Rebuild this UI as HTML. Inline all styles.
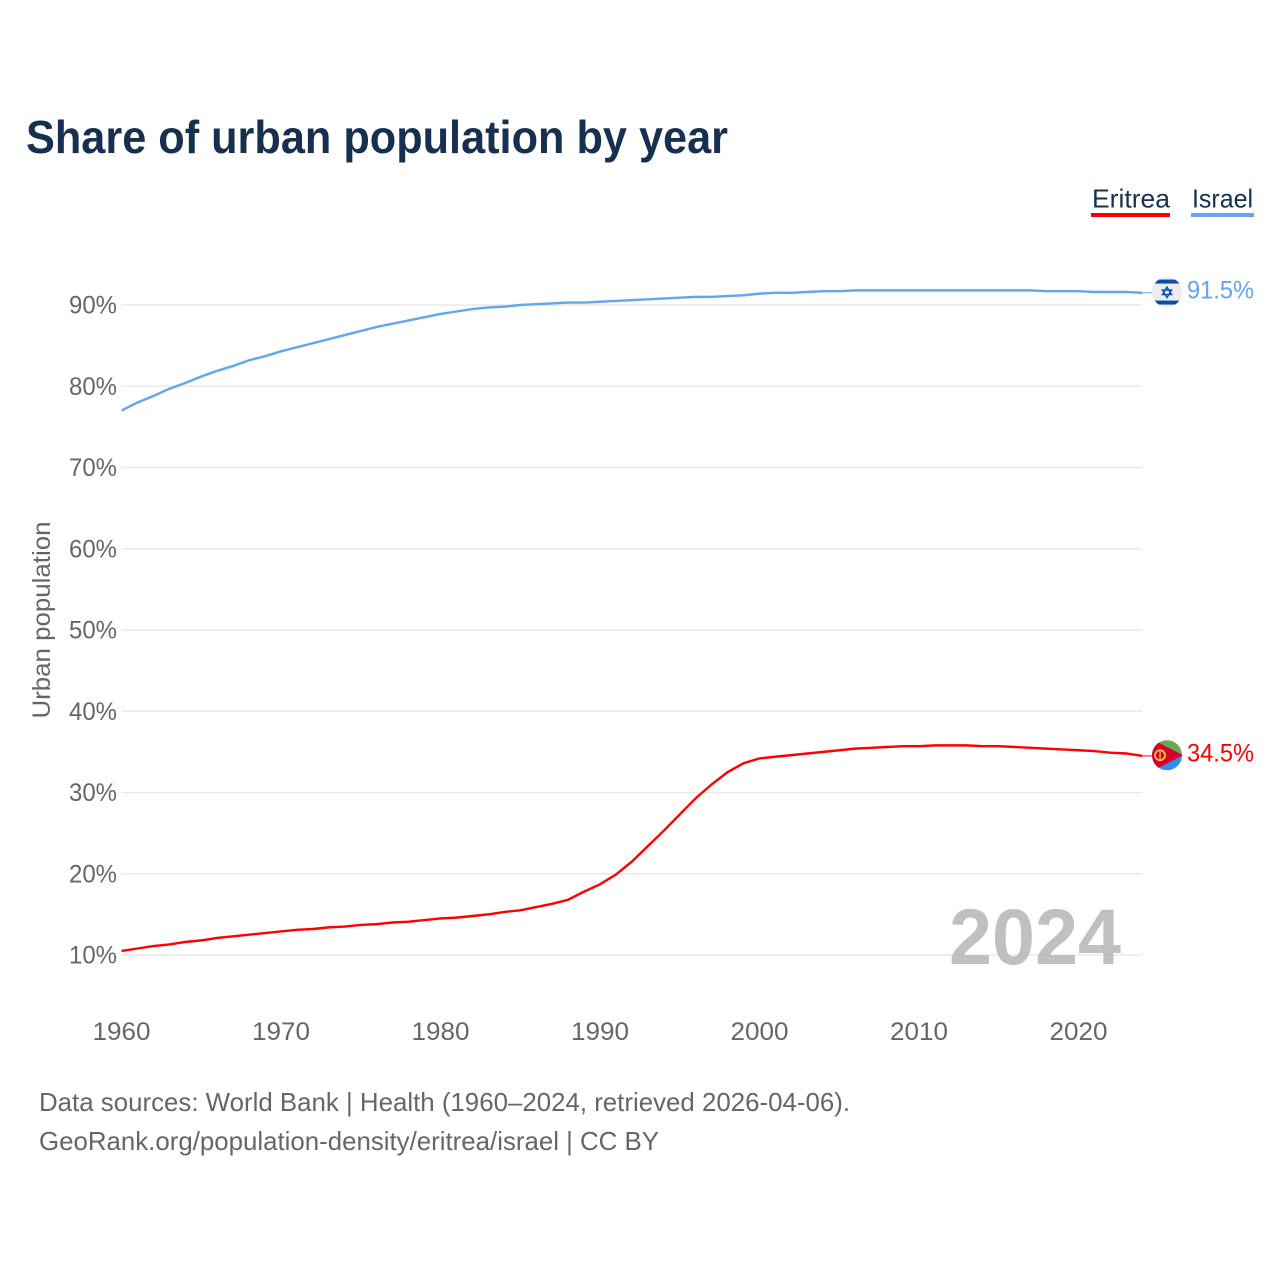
<!DOCTYPE html>
<html lang="en">
<head>
<meta charset="utf-8">
<title>Share of urban population by year</title>
<style>
html,body{margin:0;padding:0;background:#fff;width:1280px;height:1280px;overflow:hidden}
svg{display:block;font-family:"Liberation Sans",sans-serif}
</style>
</head>
<body>
<svg id="chart" xmlns="http://www.w3.org/2000/svg" width="1280" height="1280" viewBox="0 0 1280 1280">
  <rect x="0" y="0" width="1280" height="1280" fill="#fff"/>
  <text x="26" y="153" font-size="46" font-weight="bold" fill="#17304f" textLength="702" lengthAdjust="spacingAndGlyphs">Share of urban population by year</text>
  <g>
    <text x="1092" y="207.5" font-size="26" fill="#17304f" textLength="78" lengthAdjust="spacingAndGlyphs">Eritrea</text>
    <rect x="1091" y="213" width="79" height="4" fill="#ff0000"/>
  </g>
  <g>
    <text x="1192" y="207.5" font-size="26" fill="#17304f" textLength="61" lengthAdjust="spacingAndGlyphs">Israel</text>
    <rect x="1191" y="213" width="63" height="4" fill="#62a6ee"/>
  </g>
  <text transform="translate(50,620) rotate(-90)" text-anchor="middle" font-size="25" fill="#666" textLength="197" lengthAdjust="spacingAndGlyphs">Urban population</text>
  <g id="grid"></g>
  <g id="yticks"></g>
  <g id="xticks"></g>
  <text x="1121" y="964" text-anchor="end" font-size="79" font-weight="bold" fill="#a8a8a8" fill-opacity="0.72" textLength="172" lengthAdjust="spacingAndGlyphs">2024</text>
  <g id="series"></g>
  <defs>
    <clipPath id="flag-clip-il"><circle id="clip-il" cx="1167" cy="292" r="15"/></clipPath>
    <clipPath id="flag-clip-er"><circle id="clip-er" cx="1167" cy="755" r="15"/></clipPath>
  </defs>
  <g id="flag-il" clip-path="url(#flag-clip-il)">
    <rect x="1152" y="277" width="30" height="30" fill="#ececec"/>
    <rect x="1152" y="279.5" width="30" height="4" fill="#0b4db0"/>
    <rect x="1152" y="300.5" width="30" height="4" fill="#0b4db0"/>
    <path d="M1167 287l4.6 7.5h-9.2zM1167 297.5l-4.6-7.5h9.2z" fill="none" stroke="#0b4db0" stroke-width="1.4"/>
  </g>
  <g id="flag-er" clip-path="url(#flag-clip-er)">
    <rect x="1152" y="740" width="30" height="15" fill="#6aa84f"/>
    <rect x="1152" y="755" width="30" height="15" fill="#2f8cf0"/>
    <path d="M1150 738L1183 755L1150 772Z" fill="#d5002b"/>
    <circle cx="1160" cy="755" r="5" fill="none" stroke="#f5cc3d" stroke-width="1.8"/>
    <path d="M1160 751v8" stroke="#f5cc3d" stroke-width="1.3"/>
  </g>
  <text id="label-il" x="1187" y="298" font-size="25" fill="#62a6ee" textLength="67" lengthAdjust="spacingAndGlyphs">91.5%</text>
  <text id="label-er" x="1187" y="761" font-size="25" fill="#ff0000" textLength="67" lengthAdjust="spacingAndGlyphs">34.5%</text>
  <text x="39" y="1111" font-size="26" fill="#666" textLength="811" lengthAdjust="spacingAndGlyphs">Data sources: World Bank | Health (1960–2024, retrieved 2026-04-06).</text>
  <text x="39" y="1150" font-size="26" fill="#666" textLength="620" lengthAdjust="spacingAndGlyphs">GeoRank.org/population-density/eritrea/israel | CC BY</text>
</svg>
<script>
const firstYear = 1960;
const yTickValues = [10, 20, 30, 40, 50, 60, 70, 80, 90];
const xTickYears = [1960, 1970, 1980, 1990, 2000, 2010, 2020];
const israelValues = [77.0,78.0,78.8,79.7,80.4,81.2,81.9,82.5,83.2,83.7,84.3,84.8,85.3,85.8,86.3,86.8,87.3,87.7,88.1,88.5,88.9,89.2,89.5,89.7,89.8,90.0,90.1,90.2,90.3,90.3,90.4,90.5,90.6,90.7,90.8,90.9,91.0,91.0,91.1,91.2,91.4,91.5,91.5,91.6,91.7,91.7,91.8,91.8,91.8,91.8,91.8,91.8,91.8,91.8,91.8,91.8,91.8,91.8,91.7,91.7,91.7,91.6,91.6,91.6,91.5];
const eritreaValues = [10.5,10.8,11.1,11.3,11.6,11.8,12.1,12.3,12.5,12.7,12.9,13.1,13.2,13.4,13.5,13.7,13.8,14.0,14.1,14.3,14.5,14.6,14.8,15.0,15.3,15.5,15.9,16.3,16.8,17.8,18.7,19.9,21.5,23.4,25.3,27.3,29.3,31.0,32.5,33.6,34.2,34.4,34.6,34.8,35.0,35.2,35.4,35.5,35.6,35.7,35.7,35.8,35.8,35.8,35.7,35.7,35.6,35.5,35.4,35.3,35.2,35.1,34.9,34.8,34.5];

const NS = 'http://www.w3.org/2000/svg';
const xScale = function (year) { return 121.5 + (year - 1960) * 15.95; };
const yScale = function (pct) { return 955 - (pct - 10) * 8.125; };
const lastYear = firstYear + israelValues.length - 1;

const gridGroup = document.getElementById('grid');
const yTickGroup = document.getElementById('yticks');
const xTickGroup = document.getElementById('xticks');
const seriesGroup = document.getElementById('series');

yTickValues.forEach(function (v) {
  const line = document.createElementNS(NS, 'line');
  
  
  line.setAttribute('x1', xScale(firstYear));
  line.setAttribute('x2', xScale(lastYear));
  line.setAttribute('y1', yScale(v));
  line.setAttribute('y2', yScale(v));
  line.setAttribute('stroke', '#eaeaea');
  line.setAttribute('stroke-width', '1.5');
  gridGroup.appendChild(line);

  const label = document.createElementNS(NS, 'text');
  
  
  label.setAttribute('x', 117);
  label.setAttribute('y', yScale(v) + 8.5);
  label.setAttribute('text-anchor', 'end');
  label.setAttribute('font-size', '25');
  label.setAttribute('fill', '#666');
  label.setAttribute('textLength', '48');
  label.setAttribute('lengthAdjust', 'spacingAndGlyphs');
  label.textContent = v + '%';
  yTickGroup.appendChild(label);
});

xTickYears.forEach(function (year) {
  const label = document.createElementNS(NS, 'text');
  
  
  label.setAttribute('x', xScale(year));
  label.setAttribute('y', 1040);
  label.setAttribute('text-anchor', 'middle');
  label.setAttribute('font-size', '25');
  label.setAttribute('fill', '#666');
  label.setAttribute('textLength', '58');
  label.setAttribute('lengthAdjust', 'spacingAndGlyphs');
  label.textContent = String(year);
  xTickGroup.appendChild(label);
});

function linePoints(values) {
  return values.map(function (v, i) {
    return xScale(firstYear + i).toFixed(2) + ',' + yScale(v).toFixed(2);
  }).join(' ');
}

const eritreaLine = document.createElementNS(NS, 'polyline');


eritreaLine.setAttribute('points', linePoints(eritreaValues));
eritreaLine.setAttribute('fill', 'none');
eritreaLine.setAttribute('stroke', '#ff0000');
eritreaLine.setAttribute('stroke-width', '2.4');
seriesGroup.appendChild(eritreaLine);

const israelLine = document.createElementNS(NS, 'polyline');


israelLine.setAttribute('points', linePoints(israelValues));
israelLine.setAttribute('fill', 'none');
israelLine.setAttribute('stroke', '#62a6ee');
israelLine.setAttribute('stroke-width', '2.4');
seriesGroup.appendChild(israelLine);

const eritreaLeader = document.createElementNS(NS, 'line');


eritreaLeader.setAttribute('x1', xScale(lastYear));
eritreaLeader.setAttribute('x2', 1153);
eritreaLeader.setAttribute('y1', yScale(eritreaValues[eritreaValues.length - 1]));
eritreaLeader.setAttribute('y2', yScale(eritreaValues[eritreaValues.length - 1]));
eritreaLeader.setAttribute('stroke', '#ff0000');
eritreaLeader.setAttribute('stroke-width', '1');
seriesGroup.appendChild(eritreaLeader);

const israelLeader = document.createElementNS(NS, 'line');


israelLeader.setAttribute('x1', xScale(lastYear));
israelLeader.setAttribute('x2', 1153);
israelLeader.setAttribute('y1', yScale(israelValues[israelValues.length - 1]));
israelLeader.setAttribute('y2', yScale(israelValues[israelValues.length - 1]));
israelLeader.setAttribute('stroke', '#62a6ee');
israelLeader.setAttribute('stroke-width', '1');
seriesGroup.appendChild(israelLeader);

function placeEnd(values, flagId, labelId, baseY) {
  const last = values[values.length - 1];
  const dy = yScale(last) - baseY;
  document.getElementById(flagId).setAttribute('transform', 'translate(0,' + dy.toFixed(2) + ')');
  const label = document.getElementById(labelId);
  label.setAttribute('y', (yScale(last) + 5.5).toFixed(2));
  label.textContent = last.toFixed(1) + '%';
}
placeEnd(israelValues, 'flag-il', 'label-il', 292.75);
placeEnd(eritreaValues, 'flag-er', 'label-er', 755.69);
</script>
</body>
</html>
